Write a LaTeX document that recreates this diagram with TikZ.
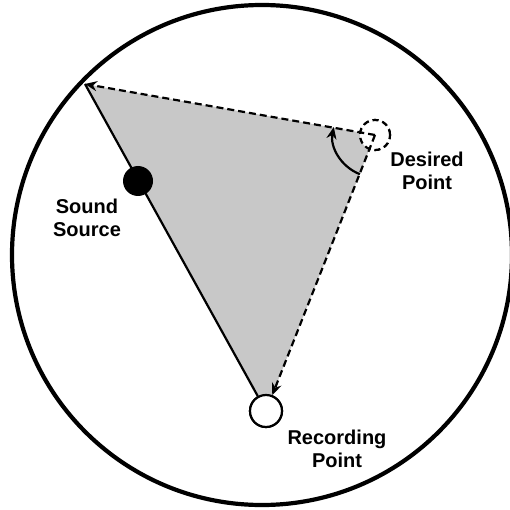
\documentclass[tikz,border=0pt]{standalone}
\usepackage{fontspec}
\setmainfont{Liberation Sans}
\usetikzlibrary{arrows.meta}
\definecolor{fillgray}{HTML}{C8C8C8}
\begin{document}
\begin{tikzpicture}[x=1pt,y=-1pt,
  lbl/.style={font=\fontsize{20}{23}\selectfont\bfseries, align=center, inner sep=0pt},
  conn/.style={line width=2.2pt},
  dconn/.style={line width=2.2pt, dash pattern=on 7pt off 4pt},
  tip/.style={-{Stealth[length=12pt,width=10pt]}},
  pt/.style={circle, draw, line width=2.2pt, inner sep=0pt}]
\useasboundingbox (0,0) rectangle (510,510);
\clip (0,0) rectangle (510,510);
\fill[white] (0,0) rectangle (510,510);
% outer boundary
\draw[line width=4.2pt] (262,255) circle[radius=250];
% points
\coordinate (A) at (85,84);
\node[pt, minimum size=30pt, dash pattern=on 6pt off 4pt] (D) at (375,135) {};
\node[pt, minimum size=32pt, fill=white] (R) at (266,411) {};
% shaded triangle
\fill[fillgray] (A) -- (D.center) -- (R.center) -- cycle;
\node[pt, minimum size=30pt, fill=white, dash pattern=on 6pt off 4pt] at (D) {};
\node[pt, minimum size=32pt, fill=white] at (R) {};
% connectors
\draw[conn] (R) -- (A);
\draw[dconn, tip] (D.center) -- (A);
\draw[dconn, tip] (D.center) -- (R);
% sound source
\node[circle, fill=black, minimum size=30pt, inner sep=0pt] (S) at (138,181) {};
% angle arc
\draw[conn, tip] ([shift={(111:42)}]D.center) arc[start angle=111, end angle=191, radius=42];
% labels
\node[lbl] (Slbl) at (87,218) {Sound\\Source};
\node[lbl] (Dlbl) at (427,171) {Desired\\Point};
\node[lbl] (Rlbl) at (337,449) {Recording\\Point};
\end{tikzpicture}
\end{document}
